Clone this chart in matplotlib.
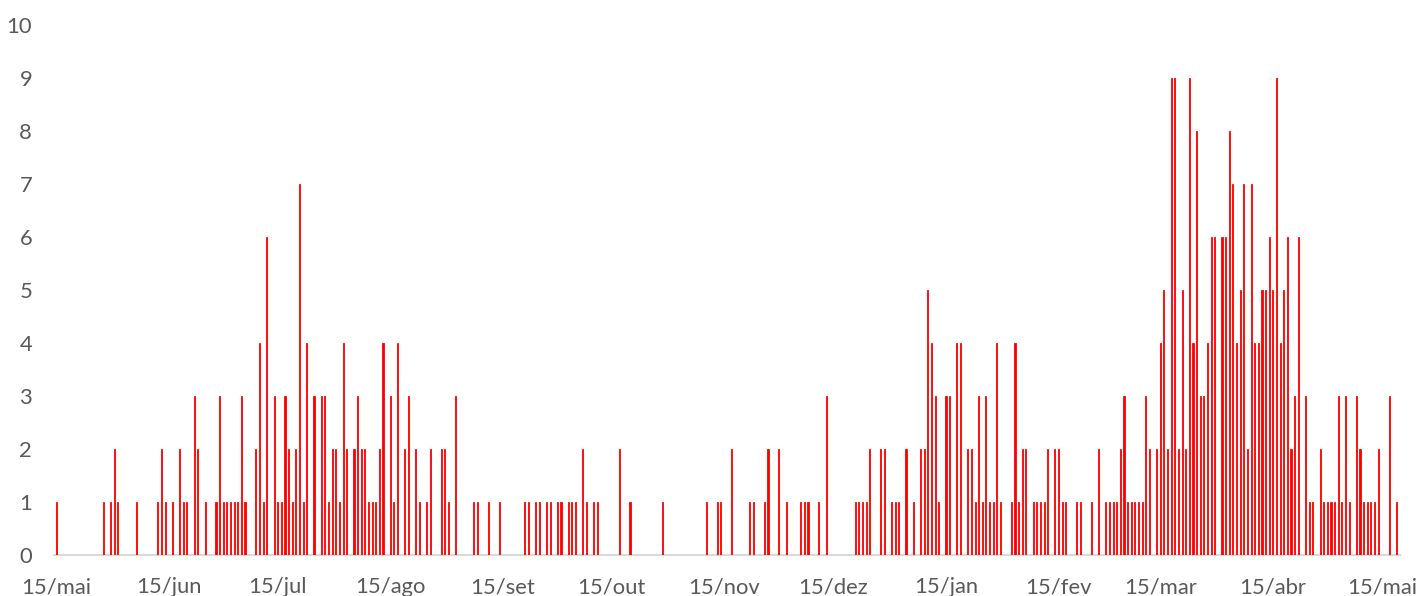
import numpy as np
import matplotlib.pyplot as plt

# dias contados a partir de 15/mai/2020 e número de casos por dia
dias = [0, 13, 15, 16, 17, 22, 28, 29, 30, 32, 34, 35, 36, 38, 39, 41, 44, 45, 46, 47,
        48, 49, 50, 51, 52, 55, 56, 57, 58, 60, 61, 62, 63, 64, 65, 66, 67, 68, 69, 71,
        73, 74, 75, 76, 77, 78, 79, 80, 82, 83, 84, 85, 86, 87, 88, 89, 90, 92, 93, 94,
        96, 97, 99, 100, 102, 103, 106, 107, 108, 110, 115, 116, 119, 122, 129, 130, 132, 133, 135, 136,
        138, 139, 141, 142, 143, 145, 146, 148, 149, 155, 158, 167, 179, 182, 183, 186, 191, 192, 195, 196,
        199, 201, 205, 206, 207, 210, 212, 220, 221, 222, 223, 224, 227, 228, 230, 231, 232, 234, 236, 238,
        239, 240, 241, 242, 243, 245, 246, 248, 249, 251, 252, 253, 254, 255, 256, 257, 258, 259, 260, 263,
        264, 265, 266, 267, 269, 270, 271, 272, 273, 275, 276, 277, 278, 281, 282, 285, 287, 289, 290, 291,
        292, 293, 294, 295, 296, 297, 298, 299, 300, 301, 303, 304, 305, 306, 307, 308, 309, 310, 311, 312,
        313, 314, 315, 316, 317, 318, 319, 321, 322, 323, 324, 325, 326, 327, 328, 329, 330, 331, 332, 333,
        334, 335, 336, 337, 338, 339, 340, 341, 342, 344, 345, 346, 348, 349, 350, 351, 352, 353, 354, 355,
        356, 358, 359, 360, 361, 362, 363, 364, 367, 369]
casos = [1, 1, 1, 2, 1, 1, 1, 2, 1, 1, 2, 1, 1, 3, 2, 1, 1, 3, 1, 1,
         1, 1, 1, 3, 1, 2, 4, 1, 6, 3, 1, 1, 3, 2, 1, 2, 7, 1, 4, 3,
         3, 3, 1, 2, 2, 1, 4, 2, 2, 3, 2, 2, 1, 1, 1, 2, 4, 3, 1, 4,
         2, 3, 2, 1, 1, 2, 2, 2, 1, 3, 1, 1, 1, 1, 1, 1, 1, 1, 1, 1,
         1, 1, 1, 1, 1, 2, 1, 1, 1, 2, 1, 1, 1, 1, 1, 2, 1, 1, 1, 2,
         2, 1, 1, 1, 1, 1, 3, 1, 1, 1, 1, 2, 2, 2, 1, 1, 1, 2, 1, 2,
         2, 5, 4, 3, 1, 3, 3, 4, 4, 2, 2, 1, 3, 1, 3, 1, 1, 4, 1, 1,
         4, 1, 2, 2, 1, 1, 1, 1, 2, 2, 2, 1, 1, 1, 1, 1, 2, 1, 1, 1,
         1, 2, 3, 1, 1, 1, 1, 1, 3, 2, 2, 4, 5, 2, 9, 9, 2, 5, 2, 9,
         4, 8, 3, 3, 4, 6, 6, 6, 6, 8, 7, 4, 5, 7, 2, 7, 4, 4, 5, 5,
         6, 5, 9, 4, 5, 6, 2, 3, 6, 3, 1, 1, 2, 1, 1, 1, 1, 3, 1, 3,
         1, 3, 2, 1, 1, 1, 1, 2, 3, 1]

inicio = np.datetime64('2020-05-15')
meses = ['mai', 'jun', 'jul', 'ago', 'set', 'out', 'nov', 'dez', 'jan', 'fev', 'mar', 'abr', 'mai']
datas_ticks = [inicio]
for i in range(1, 13):
    m = np.datetime64('2020-05') + np.timedelta64(i, 'M')
    datas_ticks.append(np.datetime64(str(m) + '-15'))
pos_ticks = [int((d - inicio) / np.timedelta64(1, 'D')) for d in datas_ticks]
rotulos = ['15/' + m for m in meses]

plt.rcParams['font.family'] = ['Lato', 'DejaVu Sans']
cinza = '#595959'

fig = plt.figure(figsize=(14.19, 5.96), dpi=100)
ax = fig.add_axes([0.0383, 0.0688, 0.9483, 0.8893])

# contorno fino na mesma cor para nenhuma barra sumir no raster
ax.bar(dias, casos, width=0.3, color='#ff0000', edgecolor='#ff0000', linewidth=0.6)

ax.set_xlim(-0.5, 370)
ax.set_ylim(0, 10)
ax.set_yticks(range(0, 11))
ax.set_xticks(pos_ticks)
ax.set_xticklabels(rotulos)

for lado in ['top', 'right', 'left']:
    ax.spines[lado].set_visible(False)
ax.spines['bottom'].set_color('#d9d9d9')
ax.spines['bottom'].set_linewidth(1.5)
ax.spines['bottom'].set_zorder(0.5)
ax.tick_params(axis='both', length=0, labelsize=15.8, labelcolor=cinza)
ax.tick_params(axis='y', pad=16)
ax.tick_params(axis='x', pad=16)

fig.savefig('out.png', dpi=100)
